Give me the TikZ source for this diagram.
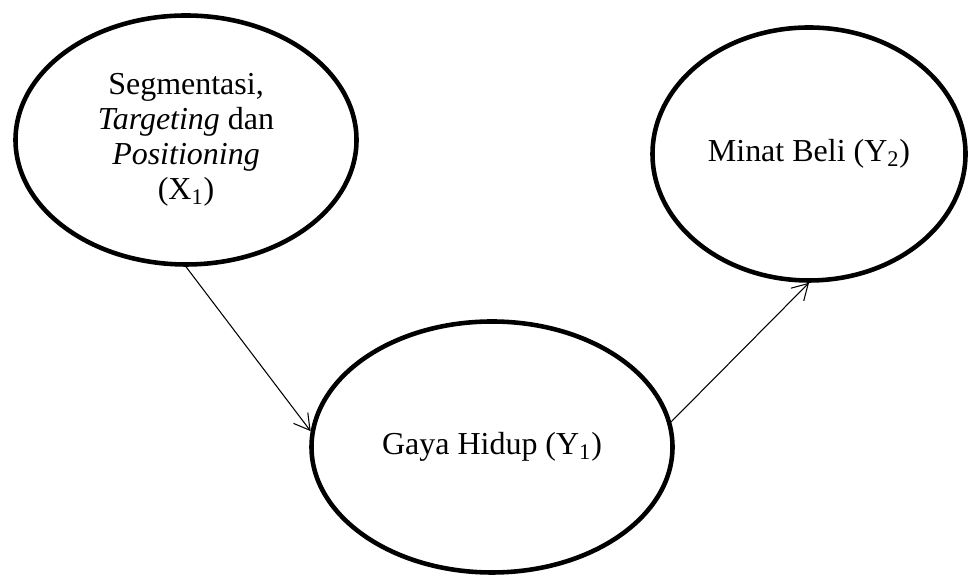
\documentclass[tikz,border=0pt]{standalone}
\usepackage{fontspec}
\setmainfont{Liberation Serif}
\usetikzlibrary{shapes.geometric,arrows.meta}

\begin{document}
\begin{tikzpicture}[
    var/.style={ellipse, draw, line width=2.6pt, inner sep=0pt, align=center,
                font=\fontsize{18.2}{20}\selectfont},
    path/.style={-{Straight Barb[length=3.1mm,width=3.6mm]}, line width=0.6pt}]
%\draw[help lines] (0,0) grid (19,11);
\useasboundingbox (0,0) rectangle (19.4,11.5);

\node[var, minimum width=6.82cm, minimum height=4.98cm] (x1) at (3.72,8.70)
    {Segmentasi,\\ \textit{Targeting} dan\\ \textit{Positioning}\\ (X\textsubscript{1})};
\node[var, minimum width=6.26cm, minimum height=5.06cm] (y2) at (16.18,8.42)
    {Minat Beli (Y\textsubscript{2})};
\node[var, minimum width=7.22cm, minimum height=5.02cm] (y1) at (9.84,2.56)
    {Gaya Hidup (Y\textsubscript{1})};

\draw[path] (x1.south) -- (y1.175);
\draw[path] (y1.8) -- (y2.south);
\end{tikzpicture}
\end{document}
